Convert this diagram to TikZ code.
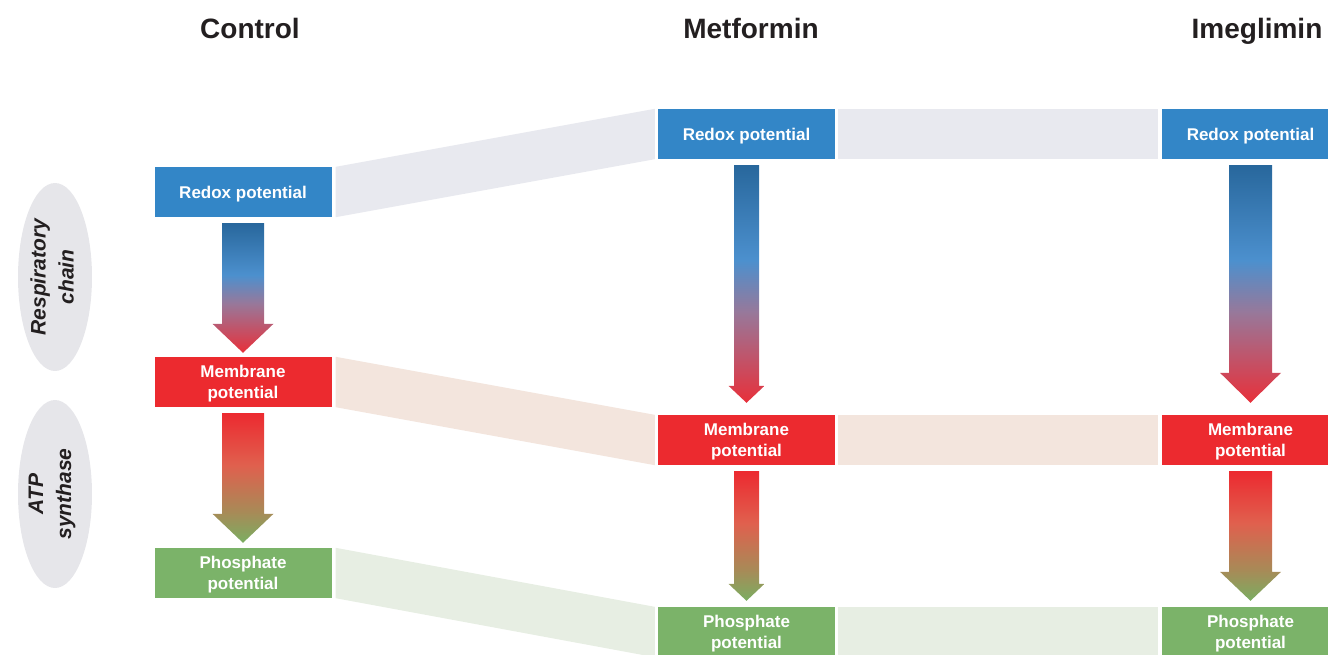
\documentclass[tikz,border=0pt]{standalone}
\usepackage{fontspec}
\setmainfont{Liberation Sans}
\usetikzlibrary{calc,shapes.geometric}
\definecolor{boxblue}{HTML}{3386C7}
\definecolor{boxred}{HTML}{EC2A2F}
\definecolor{boxgreen}{HTML}{7BB369}
\definecolor{bandgray}{HTML}{E8E9EF}
\definecolor{bandpeach}{HTML}{F3E5DD}
\definecolor{bandgreen}{HTML}{E7EEE3}
\definecolor{ellgray}{HTML}{E6E6EA}
\definecolor{titlecol}{HTML}{231F20}
\definecolor{adblue}{HTML}{28679C}
\definecolor{amblue}{HTML}{4C90CE}
\definecolor{apurple}{HTML}{98789A}
\definecolor{ared}{HTML}{E8303A}
\definecolor{bred}{HTML}{EC2A30}
\definecolor{bsalmon}{HTML}{E0604E}
\definecolor{bolive}{HTML}{A88A57}
\definecolor{bgreen}{HTML}{7AAE62}
\pgfdeclareverticalshading{redoxshade}{100bp}{color(0bp)=(ared); color(25bp)=(ared); color(44bp)=(apurple); color(55bp)=(amblue); color(75bp)=(adblue); color(100bp)=(adblue)}
\pgfdeclareverticalshading{memshade}{100bp}{color(0bp)=(bgreen); color(25bp)=(bgreen); color(37bp)=(bolive); color(55bp)=(bsalmon); color(75bp)=(bred); color(100bp)=(bred)}
% #1 from, #2 to, #3 tip gap, #4 shaft half, #5 head half, #6 head length, #7 shading
\newcommand\fatarrow[7]{%
  \shade[shading=#7] ($(#1.south)+(-#4,6)$) -- ($(#1.south)+(#4,6)$)
    -- ($(#2.north)+(#4,-#3-#6)$) -- ($(#2.north)+(#5,-#3-#6)$)
    -- ($(#2.north)+(0,-#3)$)
    -- ($(#2.north)+(-#5,-#3-#6)$) -- ($(#2.north)+(-#4,-#3-#6)$) -- cycle;}
\begin{document}
\begin{tikzpicture}[x=1pt,y=-1pt,
  box/.style={rectangle, minimum width=177pt, minimum height=50pt, inner sep=0pt,
    text depth=-2pt, text=white, align=center, font=\fontsize{17}{20.5}\selectfont\bfseries},
  title/.style={anchor=base, text=titlecol, font=\fontsize{28}{32}\selectfont\bfseries},
  ell/.style={ellipse, fill=ellgray, rotate=90, minimum width=188pt, minimum height=74pt, inner sep=0pt},
  elltext/.style={rotate=90, align=center, text=titlecol, font=\fontsize{21}{28}\selectfont\bfseries\itshape}]
\useasboundingbox (0,0) rectangle (1328,654);
\clip (0,0) rectangle (1328,654);
% titles
\node[title] (tC) at (250,38) {Control};
\node[title] (tM) at (751,38) {Metformin};
\node[title] (tI) at (1257,38) {Imeglimin};
% side ellipses
\node[ell] (e1) at (55,277) {};
\node[elltext] (e1t) at ([xshift=-3pt]e1.center) {Respiratory\\chain};
\node[ell] (e2) at (55,494) {};
\node[elltext] (e2t) at ([xshift=-3pt]e2.center) {ATP\\synthase};
% boxes
\node[box, fill=boxblue]  (cR) at (243,192) {Redox potential};
\node[box, fill=boxred]   (cM) at (243,382) {Membrane\\potential};
\node[box, fill=boxgreen] (cP) at (243,573) {Phosphate\\potential};
\node[box, fill=boxblue]  (mR) at (746.5,134) {Redox potential};
\node[box, fill=boxred]   (mM) at (746.5,440) {Membrane\\potential};
\node[box, fill=boxgreen] (mP) at (746.5,632) {Phosphate\\potential};
\node[box, fill=boxblue]  (iR) at (1250.5,134) {Redox potential};
\node[box, fill=boxred]   (iM) at (1250.5,440) {Membrane\\potential};
\node[box, fill=boxgreen] (iP) at (1250.5,632) {Phosphate\\potential};
% bands
\fill[bandgray] ([xshift=4pt]cR.north east) -- ([xshift=-3pt]mR.north west) -- ([xshift=-3pt]mR.south west) -- ([xshift=4pt]cR.south east) -- cycle;
\fill[bandgray] ([xshift=3pt]mR.north east) -- ([xshift=-4pt]iR.north west) -- ([xshift=-4pt]iR.south west) -- ([xshift=3pt]mR.south east) -- cycle;
\fill[bandpeach] ([xshift=4pt]cM.north east) -- ([xshift=-3pt]mM.north west) -- ([xshift=-3pt]mM.south west) -- ([xshift=4pt]cM.south east) -- cycle;
\fill[bandpeach] ([xshift=3pt]mM.north east) -- ([xshift=-4pt]iM.north west) -- ([xshift=-4pt]iM.south west) -- ([xshift=3pt]mM.south east) -- cycle;
\fill[bandgreen] ([xshift=4pt]cP.north east) -- ([xshift=-3pt]mP.north west) -- ([xshift=-3pt]mP.south west) -- ([xshift=4pt]cP.south east) -- cycle;
\fill[bandgreen] ([xshift=3pt]mP.north east) -- ([xshift=-4pt]iP.north west) -- ([xshift=-4pt]iP.south west) -- ([xshift=3pt]mP.south east) -- cycle;
% arrows
\fatarrow{cR}{cM}{4}{21}{30.5}{29}{redoxshade}
\fatarrow{cM}{cP}{5}{21}{30.5}{29}{memshade}
\fatarrow{mR}{mM}{12}{12.5}{18}{17}{redoxshade}
\fatarrow{mM}{mP}{6}{12.5}{18}{17}{memshade}
\fatarrow{iR}{iM}{12}{21.5}{30.5}{30}{redoxshade}
\fatarrow{iM}{iP}{6}{21.5}{30.5}{29}{memshade}
\end{tikzpicture}
\end{document}
